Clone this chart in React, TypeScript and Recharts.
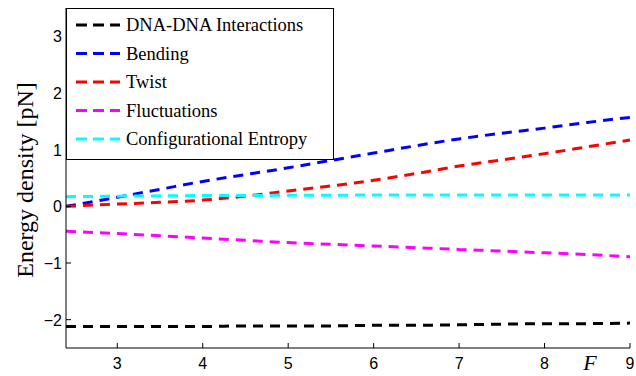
import { LineChart, Line, XAxis, YAxis, Legend } from "recharts";

// force values along the x axis
const forceF = [2.4, 3, 3.5, 4, 4.5, 5, 5.5, 6, 6.5, 7, 7.5, 8, 8.5, 9];

// energy densities [pN]
const dnaDna = [-2.12, -2.12, -2.12, -2.12, -2.11, -2.11, -2.11, -2.1, -2.1, -2.09, -2.08, -2.07, -2.07, -2.06];
const bending = [0.0, 0.16, 0.3, 0.44, 0.56, 0.68, 0.81, 0.94, 1.07, 1.19, 1.29, 1.38, 1.48, 1.57];
const twist = [0.0, 0.04, 0.07, 0.11, 0.18, 0.27, 0.36, 0.46, 0.58, 0.71, 0.82, 0.93, 1.05, 1.17];
const fluctuations = [-0.44, -0.48, -0.52, -0.56, -0.6, -0.64, -0.67, -0.7, -0.73, -0.76, -0.79, -0.82, -0.85, -0.89];
const entropy = [0.17, 0.18, 0.185, 0.19, 0.19, 0.195, 0.195, 0.2, 0.2, 0.2, 0.2, 0.2, 0.2, 0.2];

const seriesNames = ["DNA-DNA Interactions", "Bending", "Twist", "Fluctuations", "Configurational Entropy"];
const xTicks = [3, 4, 5, 6, 7, 8, 9];
const yTicks = [-2, -1, 0, 1, 2, 3];

const data = forceF.map((f, i) => ({
  f,
  dna: dnaDna[i],
  bend: bending[i],
  twist: twist[i],
  fluct: fluctuations[i],
  entropy: entropy[i],
}));

const TICK_LEN = 5;
const X_MARGIN = 9;
const Y_MARGIN = 4;
const numFont = "'Liberation Sans', Arial, sans-serif";
const serifFont = "'Liberation Serif', 'Times New Roman', serif";
const DASH = "10 7";

const fmt = (v: number) => String(v).replace("-", "\u2212");

function BottomTick(props: any) {
  const { x, y, payload } = props;
  const axisY = y - X_MARGIN;
  return (
    <g>
      <line x1={x} x2={x} y1={axisY} y2={axisY - TICK_LEN} stroke="#000" />
      <text x={x} y={y + 12} textAnchor="middle" fontFamily={numFont} fontSize={16} fill="#000">
        {fmt(payload.value)}
      </text>
    </g>
  );
}

function LeftTick(props: any) {
  const { x, y, payload } = props;
  const axisX = x + Y_MARGIN;
  return (
    <g>
      <line x1={axisX} x2={axisX + TICK_LEN} y1={y} y2={y} stroke="#000" />
      <text x={x} y={y + 6} textAnchor="end" fontFamily={numFont} fontSize={16} fill="#000">
        {fmt(payload.value)}
      </text>
    </g>
  );
}

function TopTick(props: any) {
  const { x, y } = props;
  return <line x1={x} x2={x} y1={y} y2={y + TICK_LEN} stroke="#000" />;
}

function RightTick(props: any) {
  const { x, y } = props;
  return <line x1={x} x2={x - TICK_LEN} y1={y} y2={y} stroke="#000" />;
}

function LegendBox(props: any) {
  const payload = [...(props.payload || [])].sort(
    (a: any, b: any) => seriesNames.indexOf(a.value) - seriesNames.indexOf(b.value)
  );
  return (
    <svg width={268} height={152} style={{ display: "block" }}>
      <rect x={0.5} y={0.5} width={267} height={151} fill="#fff" stroke="#000" strokeWidth={1} />
      {payload.map((entry: any, i: number) => {
        const cy = 17 + i * 28.5;
        return (
          <g key={i}>
            <line x1={10} x2={54} y1={cy} y2={cy} stroke={entry.color} strokeWidth={3} strokeDasharray="11 6" />
            <text x={60} y={cy + 6} fontFamily={serifFont} fontSize={18.5} fill="#000">
              {entry.value}
            </text>
          </g>
        );
      })}
    </svg>
  );
}

function YLabel(props: any) {
  const { viewBox } = props;
  const cy = viewBox.y + viewBox.height / 2;
  return (
    <text
      transform={`translate(33, ${cy + 2}) rotate(-90)`}
      textAnchor="middle"
      fontFamily={serifFont}
      fontSize={24}
      fill="#000"
    >
      Energy density [pN]
    </text>
  );
}

function XLabel(props: any) {
  const { viewBox } = props;
  return (
    <text
      x={viewBox.x + viewBox.width - 40}
      y={viewBox.y + 22}
      textAnchor="middle"
      fontFamily={serifFont}
      fontStyle="italic"
      fontSize={22}
      fill="#000"
    >
      F
    </text>
  );
}

export default function App() {
  return (
    <div style={{ position: "absolute", left: 0, top: 0, background: "#fff" }}>
      <LineChart width={636} height={376} data={data} margin={{ top: 8, right: 6, bottom: 0, left: 0 }}>
        <XAxis
          dataKey="f"
          type="number"
          domain={[2.4, 9]}
          ticks={xTicks}
          height={28}
          tickSize={0}
          tickMargin={X_MARGIN}
          tick={<BottomTick />}
          axisLine={{ stroke: "#000" }}
          tickLine={false}
          label={<XLabel />}
          allowDataOverflow
        />
        <XAxis
          xAxisId="top"
          orientation="top"
          type="number"
          domain={[2.4, 9]}
          ticks={xTicks}
          height={0}
          tickSize={0}
          tickMargin={0}
          tick={<TopTick />}
          axisLine={{ stroke: "#000" }}
          tickLine={false}
          allowDataOverflow
        />
        <YAxis
          type="number"
          domain={[-2.5, 3.5]}
          ticks={yTicks}
          width={66}
          tickSize={0}
          tickMargin={Y_MARGIN}
          tick={<LeftTick />}
          axisLine={{ stroke: "#000" }}
          tickLine={false}
          label={<YLabel />}
          allowDataOverflow
        />
        <YAxis
          yAxisId="right"
          orientation="right"
          type="number"
          domain={[-2.5, 3.5]}
          ticks={yTicks}
          width={0}
          tickSize={0}
          tickMargin={0}
          tick={<RightTick />}
          axisLine={{ stroke: "#000" }}
          tickLine={false}
          allowDataOverflow
        />
        <Legend
          layout="vertical"
          align="center"
          verticalAlign="middle"
          content={<LegendBox />}
          wrapperStyle={{ left: 66, top: 8, width: 268, height: 152 }}
        />
        <Line name={seriesNames[0]} dataKey="dna" type="monotone" stroke="#000000" strokeWidth={3} strokeDasharray={DASH} dot={false} isAnimationActive={false} />
        <Line name={seriesNames[1]} dataKey="bend" type="monotone" stroke="#0000ff" strokeWidth={3} strokeDasharray={DASH} dot={false} isAnimationActive={false} />
        <Line name={seriesNames[2]} dataKey="twist" type="monotone" stroke="#ff0000" strokeWidth={3} strokeDasharray={DASH} dot={false} isAnimationActive={false} />
        <Line name={seriesNames[3]} dataKey="fluct" type="monotone" stroke="#ff00ff" strokeWidth={3} strokeDasharray={DASH} dot={false} isAnimationActive={false} />
        <Line name={seriesNames[4]} dataKey="entropy" type="monotone" stroke="#00ffff" strokeWidth={3} strokeDasharray={DASH} dot={false} isAnimationActive={false} />
      </LineChart>
    </div>
  );
}
